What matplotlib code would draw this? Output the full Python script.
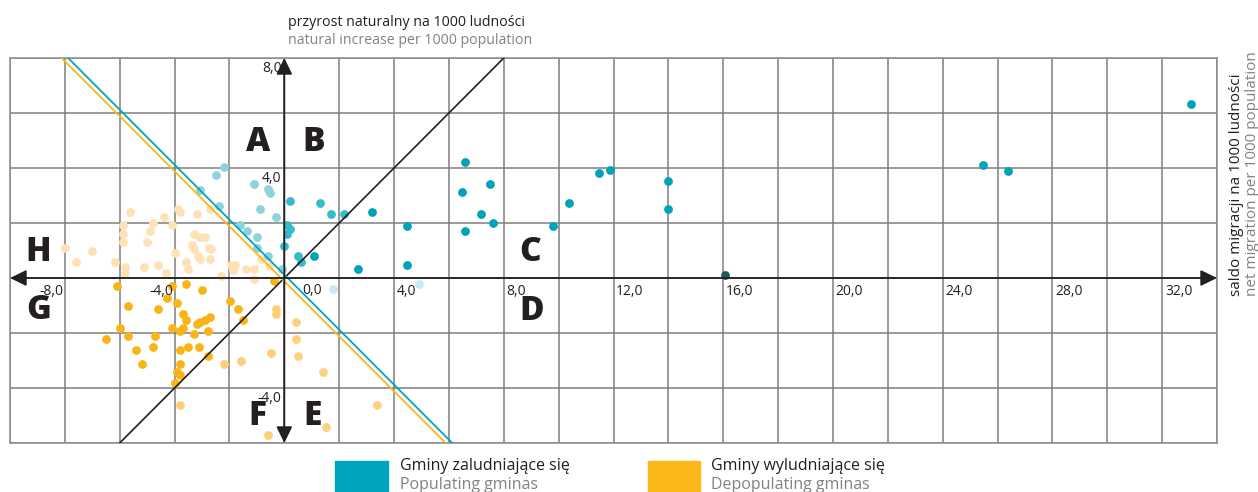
import matplotlib.pyplot as plt
from matplotlib.patches import Rectangle

plt.rcParams['font.family'] = ['Open Sans', 'DejaVu Sans']

# saldo migracji (x) i przyrost naturalny (y) na 1000 ludności, gminy wg typów Webba
typ_a_x = [-2.19, -2.49, -1.10, -0.61, -0.52, -3.07, -2.37, -0.90, -0.31, -1.61, -1.36, -1.00, -1.00, -0.61, -0.09]
typ_a_y = [4.03, 3.73, 3.42, 3.22, 3.10, 3.19, 2.61, 2.52, 2.22, 1.91, 1.70, 1.50, 1.10, 0.79, 0.31]

typ_b_x = [0.21, 1.30, 1.70, 2.19, 0.09, 0.21, 0.09, -0.01, 0.50, 0.60]
typ_b_y = [2.81, 2.71, 2.31, 2.31, 1.91, 1.80, 1.61, 1.18, 0.79, 0.59]

typ_c_x = [3.21, 4.48, 1.10, 2.70, 4.48, 6.59, 6.49, 7.48, 7.18, 7.59, 6.59, 9.78, 10.39,
           11.48, 11.88, 13.97, 13.97, 25.47, 26.38, 33.07]
typ_c_y = [2.41, 1.90, 0.79, 0.31, 0.49, 4.21, 3.11, 3.41, 2.31, 2.00, 1.70, 1.90, 2.71,
           3.81, 3.91, 3.52, 2.50, 4.12, 3.90, 6.32]

miasto_x = [16.08]
miasto_y = [0.10]

typ_d_x = [1.79, 4.90]
typ_d_y = [-0.39, -0.21]

typ_e_x = [0.42, 0.42, 0.50, 1.41, 1.51, 3.39]
typ_e_y = [-1.61, -2.21, -2.82, -3.42, -5.42, -4.62]

typ_f_x = [-0.30, -0.30, -0.49, -1.58, -2.21, -0.59, -3.79]
typ_f_y = [-1.11, -1.30, -2.72, -3.02, -3.12, -5.72, -4.62]

typ_g_x = [-6.09, -4.28, -3.58, -3.00, -4.10, -5.70, -4.60, -3.90, -1.99, -3.69, -3.59, -3.18, -3.07,
           -2.89, -2.70, -5.99, -5.70, -6.49, -4.70, -4.09, -3.79, -3.69, -3.29, -2.79, -5.39, -4.79,
           -3.80, -3.50, -3.10, -2.79, -5.19, -3.79, -3.90, -3.79, -3.99, -1.70, -1.50, -0.39]
typ_g_y = [-0.30, -0.72, -0.20, -0.42, -0.30, -1.00, -1.11, -0.92, -0.82, -1.30, -1.51, -1.69, -1.61,
           -1.51, -1.41, -1.81, -2.12, -2.21, -2.12, -1.81, -1.91, -1.81, -2.02, -1.91, -2.61, -2.52,
           -2.61, -2.52, -2.52, -2.82, -3.12, -3.12, -3.42, -3.53, -3.82, -1.11, -1.51, -0.12]

typ_h_x = [-5.61, -5.88, -5.88, -5.88, -4.79, -4.39, -4.89, -5.00, -4.08, -3.88, -3.79, -3.19, -2.70,
           -3.30, -3.09, -2.89, -3.38, -3.28, -2.73, -2.67, -3.16, -3.06, -2.70, -4.00, -3.58, -3.50,
           -2.31, -1.95, -1.80, -1.87, -1.40, -1.10, -1.10, -0.85, -0.55, -7.99, -7.00, -7.58, -6.19,
           -5.79, -5.79, -5.10, -4.60, -4.31]
typ_h_y = [2.41, 1.91, 1.61, 1.30, 2.01, 2.21, 1.70, 1.30, 1.91, 2.52, 2.39, 2.31, 2.52,
           1.61, 1.50, 1.50, 1.19, 1.07, 1.10, 1.04, 0.79, 0.70, 0.70, 0.90, 0.60, 0.31,
           0.09, 0.49, 0.49, 0.30, 0.31, 0.31, -0.02, 0.68, 0.42, 1.10, 1.00, 0.59, 0.59,
           0.41, 0.19, 0.41, 0.49, 0.19]

litery = ['A', 'B', 'C', 'D', 'E', 'F', 'G', 'H']
litery_x = [-0.94, 1.08, 8.96, 9.03, 1.03, -1.0, -8.97, -8.97]
litery_y = [4.94, 4.94, 0.93, -1.21, -5.02, -5.02, -1.15, 0.93]

ticks_x = [-8, -4, 0, 4, 8, 12, 16, 20, 24, 28, 32]
ticks_y = [8, 4, -4]

czarny = '#231f20'
szary = '#808285'
turkus = '#00a6bd'
pomarancz = '#fbb717'

fig = plt.figure(figsize=(12.58, 4.92), dpi=100)
ax = fig.add_axes([10 / 1258, 49 / 492, 1207 / 1258, 385 / 492])
ax.set_xlim(-10, 34)
ax.set_ylim(-6, 8)
ax.set_xticks(range(-10, 35, 2))
ax.set_yticks(range(-6, 9, 2))
ax.grid(True, color='#7f7f7f', lw=1.1)
ax.tick_params(length=0, labelbottom=False, labelleft=False)
for s in ax.spines.values():
    s.set_color('#8c8c8c')
    s.set_linewidth(1.1)

# punkty
kw = dict(s=40, linewidths=0, zorder=3)
ax.scatter(typ_h_x, typ_h_y, color='#fee2b5', **kw)
ax.scatter(typ_g_x, typ_g_y, color='#f9b517', **kw)
ax.scatter(typ_f_x, typ_f_y, color='#fdcf78', **kw)
ax.scatter(typ_e_x, typ_e_y, color='#fdd27f', **kw)
ax.scatter(typ_d_x, typ_d_y, color='#c8ebf0', **kw)
ax.scatter(typ_a_x, typ_a_y, color='#8ed3dc', **kw)
ax.scatter(typ_b_x, typ_b_y, color='#35bbcb', **kw)
ax.scatter(typ_c_x, typ_c_y, color='#00a3b7', **kw)
ax.scatter(miasto_x, miasto_y, color='#1f5b5c', **kw)

# linie podziału
ax.plot([-6, 8], [-6, 8], color=czarny, lw=1.2, zorder=4)
ax.plot([-7.88, 6.12], [8, -6], color=turkus, lw=1.3, zorder=4)
ax.plot([-8.12, 5.88], [8, -6], color=pomarancz, lw=1.3, zorder=4)

# osie ze strzałkami
ap = dict(arrowstyle='<|-|>,head_length=0.45,head_width=0.22', color=czarny, lw=1.3,
          mutation_scale=22, shrinkA=0, shrinkB=0)
ax.annotate('', xy=(34, 0), xytext=(-10, 0), arrowprops=ap, annotation_clip=False, zorder=5)
ax.annotate('', xy=(0, 8), xytext=(0, -6), arrowprops=ap, annotation_clip=False, zorder=5)

for v in ticks_x:
    if v < 0:
        ax.text(v - 0.05, -0.48, f'{v:.1f}'.replace('.', ','), ha='right', va='center', fontsize=10, color=czarny)
    elif v == 0:
        ax.text(0.66, -0.45, '0,0', ha='left', va='center', fontsize=10, color=czarny)
    else:
        ax.text(v + 0.1, -0.48, f'{v:.1f}'.replace('.', ','), ha='left', va='center', fontsize=10, color=czarny)
for v in ticks_y:
    ax.text(-0.1, v - 0.37, f'{v:.1f}'.replace('.', ','), ha='right', va='center', fontsize=10, color=czarny)

for t, x, y in zip(litery, litery_x, litery_y):
    ax.text(x, y, t, ha='center', va='center', fontsize=24, fontweight='heavy', color=czarny, zorder=6)

fig.text(288 / 1258, 1 - 22 / 492, 'przyrost naturalny na 1000 ludności', fontsize=10.2, color=czarny, va='center')
fig.text(288 / 1258, 1 - 41 / 492, 'natural increase per 1000 population', fontsize=10.2, color=szary, va='center')
fig.text(1237 / 1258, 196 / 492, 'saldo migracji na 1000 ludności', rotation=90, fontsize=11,
         color=czarny, ha='center', va='bottom')
fig.text(1253 / 1258, 196 / 492, 'net migration per 1000 population', rotation=90, fontsize=11,
         color=szary, ha='center', va='bottom')

# legenda
fig.add_artist(Rectangle((335 / 1258, 0), 53 / 1258, 31 / 492, transform=fig.transFigure, color=turkus))
fig.add_artist(Rectangle((648 / 1258, 0), 52 / 1258, 31 / 492, transform=fig.transFigure, color=pomarancz))
fig.text(400 / 1258, 1 - 466 / 492, 'Gminy zaludniające się', fontsize=11.5, color=czarny, va='center')
fig.text(400 / 1258, 1 - 485 / 492, 'Populating gminas', fontsize=11.5, color=szary, va='center')
fig.text(711 / 1258, 1 - 466 / 492, 'Gminy wyludniające się', fontsize=11.5, color=czarny, va='center')
fig.text(711 / 1258, 1 - 485 / 492, 'Depopulating gminas', fontsize=11.5, color=szary, va='center')

fig.savefig('out.png', dpi=100)
